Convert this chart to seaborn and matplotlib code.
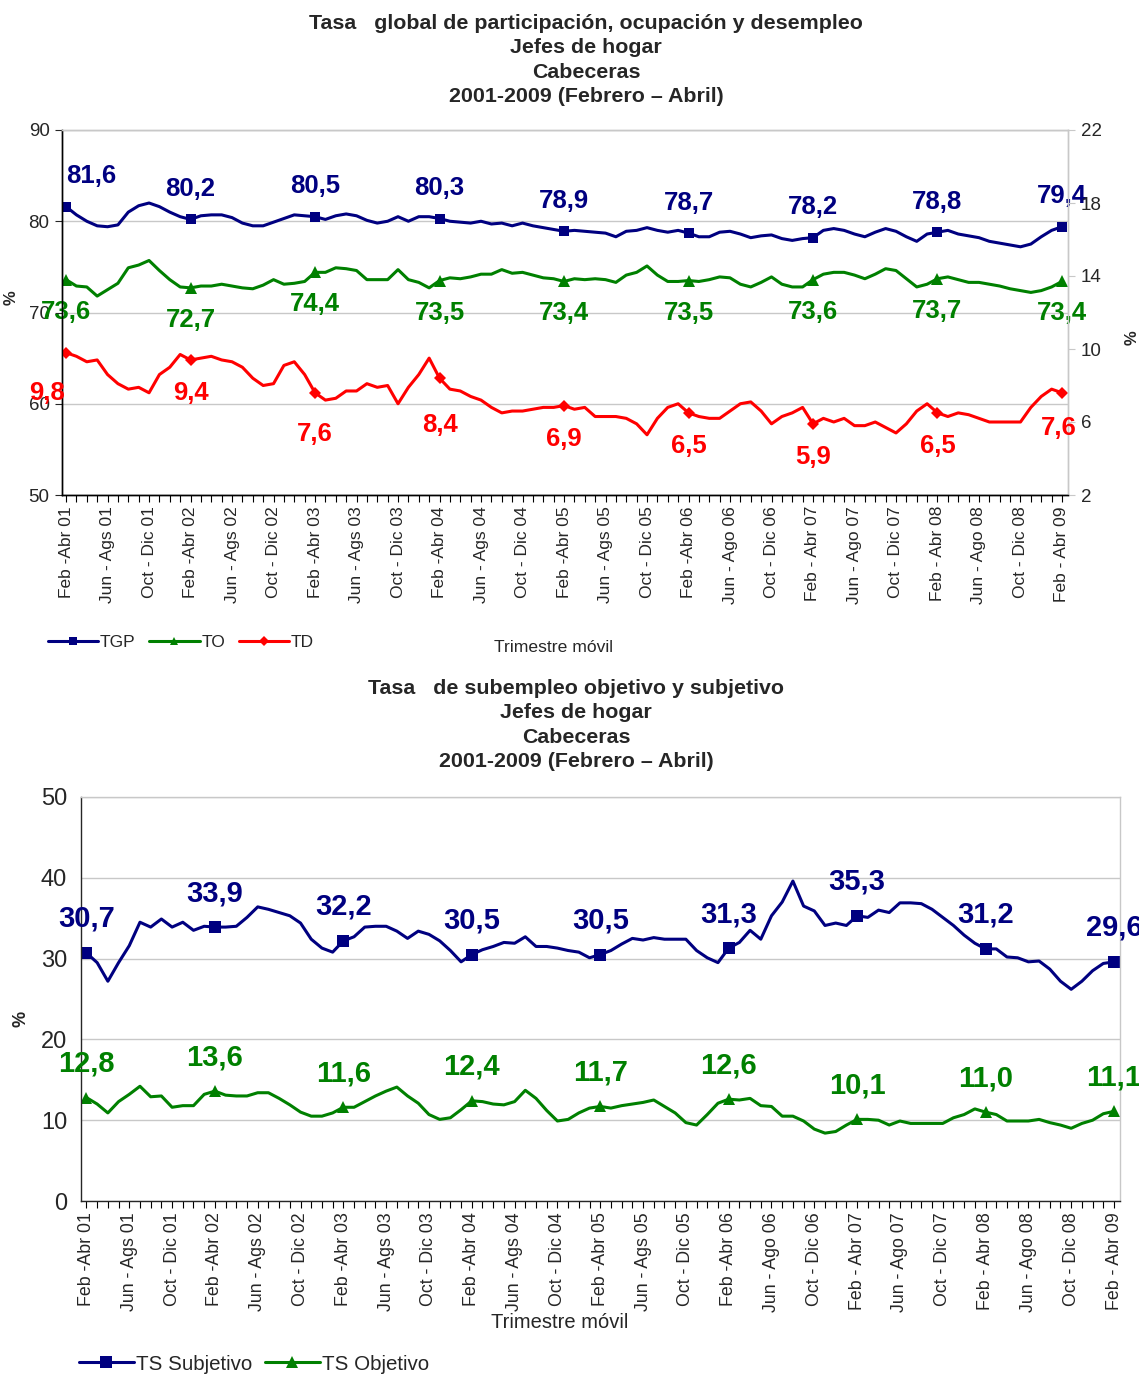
import matplotlib
matplotlib.use('Agg')
import matplotlib.pyplot as plt
import seaborn as sns
import pandas as pd

# Trimestres móviles: Feb-Abr 01 ... Feb-Abr 09 (97 puntos, etiqueta cada 4)
tick_labels = ['Feb -Abr 01', 'Jun - Ags 01', 'Oct - Dic 01',
               'Feb -Abr 02', 'Jun - Ags 02', 'Oct - Dic 02',
               'Feb -Abr 03', 'Jun - Ags 03', 'Oct - Dic 03',
               'Feb -Abr 04', 'Jun - Ags 04', 'Oct - Dic 04',
               'Feb -Abr 05', 'Jun - Ags 05', 'Oct - Dic 05',
               'Feb -Abr 06', 'Jun - Ago 06', 'Oct - Dic 06',
               'Feb - Abr 07', 'Jun - Ago 07', 'Oct - Dic 07',
               'Feb - Abr 08', 'Jun - Ago 08', 'Oct - Dic 08',
               'Feb - Abr 09']

tgp = [81.6, 80.7, 80.0, 79.5, 79.4, 79.6, 81.0, 81.7, 82.0, 81.6, 81.0, 80.5,
       80.2, 80.6, 80.7, 80.7, 80.4, 79.8, 79.5, 79.5, 79.9, 80.3, 80.7, 80.6,
       80.5, 80.2, 80.6, 80.8, 80.6, 80.1, 79.8, 80.0, 80.5, 80.0, 80.5, 80.5,
       80.3, 80.0, 79.9, 79.8, 80.0, 79.7, 79.8, 79.5, 79.8, 79.5, 79.3, 79.1,
       78.9, 79.0, 78.9, 78.8, 78.7, 78.3, 78.9, 79.0, 79.3, 79.0, 78.8, 79.0,
       78.7, 78.3, 78.3, 78.8, 78.9, 78.6, 78.2, 78.4, 78.5, 78.1, 77.9, 78.1,
       78.2, 79.0, 79.2, 79.0, 78.6, 78.3, 78.8, 79.2, 78.9, 78.3, 77.8, 78.6,
       78.8, 79.0, 78.6, 78.4, 78.2, 77.8, 77.6, 77.4, 77.2, 77.5, 78.3, 79.0,
       79.4]

to = [73.6, 72.9, 72.8, 71.8, 72.5, 73.2, 74.9, 75.2, 75.7, 74.6, 73.6, 72.8,
      72.7, 72.9, 72.9, 73.1, 72.9, 72.7, 72.6, 73.0, 73.6, 73.1, 73.2, 73.4,
      74.4, 74.4, 74.9, 74.8, 74.6, 73.6, 73.6, 73.6, 74.7, 73.6, 73.3, 72.7,
      73.5, 73.8, 73.7, 73.9, 74.2, 74.2, 74.7, 74.3, 74.4, 74.1, 73.8, 73.7,
      73.4, 73.7, 73.6, 73.7, 73.6, 73.3, 74.1, 74.4, 75.1, 74.1, 73.4, 73.4,
      73.5, 73.4, 73.6, 73.9, 73.8, 73.1, 72.8, 73.3, 73.9, 73.1, 72.8, 72.8,
      73.6, 74.2, 74.4, 74.4, 74.1, 73.7, 74.2, 74.8, 74.6, 73.7, 72.8, 73.1,
      73.7, 73.9, 73.6, 73.3, 73.3, 73.1, 72.9, 72.6, 72.4, 72.2, 72.4, 72.8,
      73.4]

td = [9.8, 9.6, 9.3, 9.4, 8.6, 8.1, 7.8, 7.9, 7.6, 8.6, 9.0, 9.7,
      9.4, 9.5, 9.6, 9.4, 9.3, 9.0, 8.4, 8.0, 8.1, 9.1, 9.3, 8.6,
      7.6, 7.2, 7.3, 7.7, 7.7, 8.1, 7.9, 8.0, 7.0, 7.9, 8.6, 9.5,
      8.4, 7.8, 7.7, 7.4, 7.2, 6.8, 6.5, 6.6, 6.6, 6.7, 6.8, 6.8,
      6.9, 6.7, 6.8, 6.3, 6.3, 6.3, 6.2, 5.9, 5.3, 6.2, 6.8, 7.0,
      6.5, 6.3, 6.2, 6.2, 6.6, 7.0, 7.1, 6.6, 5.9, 6.3, 6.5, 6.8,
      5.9, 6.2, 6.0, 6.2, 5.8, 5.8, 6.0, 5.7, 5.4, 5.9, 6.6, 7.0,
      6.5, 6.3, 6.5, 6.4, 6.2, 6.0, 6.0, 6.0, 6.0, 6.8, 7.4, 7.8,
      7.6]

ts_subjetivo = [30.7, 29.5, 27.2, 29.5, 31.6, 34.5, 33.9, 34.9, 33.9, 34.5, 33.5, 34.0,
                33.9, 33.9, 34.0, 35.1, 36.4, 36.1, 35.7, 35.3, 34.4, 32.4, 31.3, 30.8,
                32.2, 32.7, 33.9, 34.0, 34.0, 33.4, 32.5, 33.4, 33.0, 32.2, 31.0, 29.6,
                30.5, 31.1, 31.5, 32.0, 31.9, 32.7, 31.5, 31.5, 31.3, 31.0, 30.8, 30.1,
                30.5, 31.0, 31.8, 32.5, 32.3, 32.6, 32.4, 32.4, 32.4, 31.0, 30.1, 29.5,
                31.3, 32.0, 33.5, 32.4, 35.3, 37.0, 39.6, 36.5, 35.9, 34.1, 34.4, 34.1,
                35.3, 35.1, 36.0, 35.7, 36.9, 36.9, 36.8, 36.1, 35.1, 34.1, 32.9, 31.9,
                31.2, 31.2, 30.2, 30.1, 29.6, 29.7, 28.7, 27.2, 26.2, 27.2, 28.5, 29.4,
                29.6]

ts_objetivo = [12.8, 12.0, 10.9, 12.3, 13.2, 14.2, 12.9, 13.0, 11.6, 11.8, 11.8, 13.2,
               13.6, 13.1, 13.0, 13.0, 13.4, 13.4, 12.7, 11.9, 11.0, 10.5, 10.5, 10.9,
               11.6, 11.6, 12.3, 13.0, 13.6, 14.1, 13.0, 12.1, 10.7, 10.1, 10.3, 11.3,
               12.4, 12.3, 12.0, 11.9, 12.3, 13.7, 12.7, 11.2, 9.9, 10.1, 10.9, 11.5,
               11.7, 11.5, 11.8, 12.0, 12.2, 12.5, 11.7, 10.9, 9.7, 9.4, 10.7, 12.1,
               12.6, 12.5, 12.7, 11.8, 11.7, 10.5, 10.5, 9.9, 8.9, 8.4, 8.6, 9.4,
               10.1, 10.1, 10.0, 9.4, 9.9, 9.6, 9.6, 9.6, 9.6, 10.3, 10.7, 11.4,
               11.0, 10.7, 9.9, 9.9, 9.9, 10.1, 9.7, 9.4, 9.0, 9.6, 10.0, 10.8,
               11.1]

NAVY = '#000080'
GREEN = '#008000'
RED = '#FF0000'
GRID = '#c8c8c8'

sns.set_style('white')
plt.rcParams['font.family'] = ['Liberation Sans', 'DejaVu Sans']
NARROW = ['Liberation Sans Narrow', 'Liberation Sans', 'DejaVu Sans']

n = len(tgp)
df_top = pd.DataFrame({'t': range(n), 'TGP': tgp, 'TO': to, 'TD': td})
df_bot = pd.DataFrame({'t': range(n), 'TS Subjetivo': ts_subjetivo,
                       'TS Objetivo': ts_objetivo})

W, H = 1139, 1374
fig = plt.figure(figsize=(W / 100, H / 100), dpi=100)


def px_axes(left, top, right, bottom):
    return fig.add_axes([left / W, 1 - bottom / H, (right - left) / W, (bottom - top) / H])


def style_x(ax, size):
    ax.set_xticks(range(0, n, 4))
    ax.set_xticklabels(tick_labels, rotation=90, fontsize=size)
    ax.set_xticks(range(n), minor=True)
    ax.tick_params(axis='x', which='both', direction='out', length=5, width=0.8,
                   color='black', bottom=True, pad=3)
    ax.set_xlabel('')


def add_labels(ax, values, color, size, offset, tweaks=None):
    tweaks = tweaks or {}
    for i in range(0, n, 12):
        dx, dy = tweaks.get(i, offset)
        ax.annotate(f'{values[i]:.1f}'.replace('.', ','), (i, values[i]),
                    xytext=(dx, dy), textcoords='offset points',
                    ha='center', va='center', fontsize=size, fontweight='bold',
                    color=color, annotation_clip=False)


# ---------------- gráfico superior ----------------
fig.text(586 / W, 1 - 14 / H,
         'Tasa   global de participación, ocupación y desempleo\nJefes de hogar\n'
         'Cabeceras\n2001-2009 (Febrero – Abril)',
         ha='center', va='top', fontsize=15.4, fontweight='bold', linespacing=1.35)

ax1 = px_axes(62, 130, 1068, 495)
ax2 = ax1.twinx()

sns.lineplot(data=df_top, x='t', y='TGP', ax=ax1, color=NAVY, lw=2.2,
             marker='s', markevery=12, markersize=7, markeredgewidth=0)
sns.lineplot(data=df_top, x='t', y='TO', ax=ax1, color=GREEN, lw=2.2,
             marker='^', markevery=12, markersize=8, markeredgewidth=0)
sns.lineplot(data=df_top, x='t', y='TD', ax=ax2, color=RED, lw=2.2,
             marker='D', markevery=12, markersize=6, markeredgewidth=0)

ax1.set_xlim(-0.39, 96.58)
ax1.set_ylim(50, 90)
ax1.set_yticks([50, 60, 70, 80, 90])
ax2.set_ylim(2, 22)
ax2.set_yticks([2, 6, 10, 14, 18, 22])
ax1.yaxis.grid(True, color=GRID, lw=1)
ax1.set_axisbelow(True)

for a in (ax1, ax2):
    for s in a.spines.values():
        s.set_linewidth(1)
    a.spines['top'].set_color(GRID)
    a.spines['right'].set_color(GRID)
    a.spines['left'].set_color('black')
    a.spines['bottom'].set_color('black')

ax1.tick_params(axis='y', direction='out', length=5, labelsize=13.5, pad=4)
ax2.tick_params(axis='y', direction='out', length=5, color=GRID, labelsize=13.5, pad=4)
style_x(ax1, 12.5)
ax1.set_ylabel('%', fontsize=12, fontweight='bold')
ax2.set_ylabel('%', fontsize=12, fontweight='bold')
ax2.yaxis.set_label_coords(1.056, 0.43)
ax1.yaxis.set_label_coords(-0.043, 0.54)

add_labels(ax1, tgp, NAVY, 18.5, (0, 22), {0: (18, 22)})
add_labels(ax1, to, GREEN, 18.5, (0, -23))
add_labels(ax2, td, RED, 18.5, (0, -24),
           {0: (-14, -29), 24: (0, -30), 36: (0, -34), 96: (-2, -25)})

handles = ax1.get_lines()[:2] + ax2.get_lines()[:1]
fig.legend(handles, ['TGP', 'TO', 'TD'], loc='center left',
           bbox_to_anchor=(32 / W, 1 - 642 / H), ncol=3, frameon=False,
           prop={'family': NARROW, 'size': 12.5}, handlelength=2.9,
           handletextpad=0.1, columnspacing=0.8, markerscale=0.8)
fig.text(553 / W, 1 - 648 / H, 'Trimestre móvil', ha='center', va='center',
         fontsize=12.6, family=NARROW)

# ---------------- gráfico inferior ----------------
fig.text(576 / W, 1 - 679 / H,
         'Tasa   de subempleo objetivo y subjetivo\nJefes de hogar\n'
         'Cabeceras\n2001-2009 (Febrero – Abril)',
         ha='center', va='top', fontsize=15.4, fontweight='bold', linespacing=1.35)

ax3 = px_axes(81, 797, 1120, 1201)
sns.lineplot(data=df_bot, x='t', y='TS Subjetivo', ax=ax3, color=NAVY, lw=2.2,
             marker='s', markevery=12, markersize=8, markeredgewidth=0)
sns.lineplot(data=df_bot, x='t', y='TS Objetivo', ax=ax3, color=GREEN, lw=2.2,
             marker='^', markevery=12, markersize=9, markeredgewidth=0)

ax3.set_xlim(-0.51, 96.56)
ax3.set_ylim(0, 50)
ax3.set_yticks([0, 10, 20, 30, 40, 50])
ax3.yaxis.grid(True, color=GRID, lw=1)
ax3.set_axisbelow(True)
for s in ax3.spines.values():
    s.set_linewidth(1)
ax3.spines['top'].set_color(GRID)
ax3.spines['right'].set_color(GRID)
ax3.tick_params(axis='y', direction='out', length=5, labelsize=17, pad=5)
style_x(ax3, 12.8)
ax3.set_ylabel('%', fontsize=13, fontweight='bold')
ax3.yaxis.set_label_coords(-0.05, 0.45)

add_labels(ax3, ts_subjetivo, NAVY, 21, (0, 24.5))
add_labels(ax3, ts_objetivo, GREEN, 21, (0, 24.5))

fig.legend(ax3.get_lines()[:2], ['TS Subjetivo', 'TS Objetivo'], loc='center left',
           bbox_to_anchor=(60 / W, 1 - 1364 / H), ncol=2, frameon=False,
           prop={'family': NARROW, 'size': 14.8}, handlelength=2.7,
           handletextpad=0.1, columnspacing=0.6)
fig.text(560 / W, 1 - 1322 / H, 'Trimestre móvil', ha='center', va='center',
         fontsize=14.5, family=NARROW)

fig.savefig('out.png', dpi=100)
plt.close(fig)
